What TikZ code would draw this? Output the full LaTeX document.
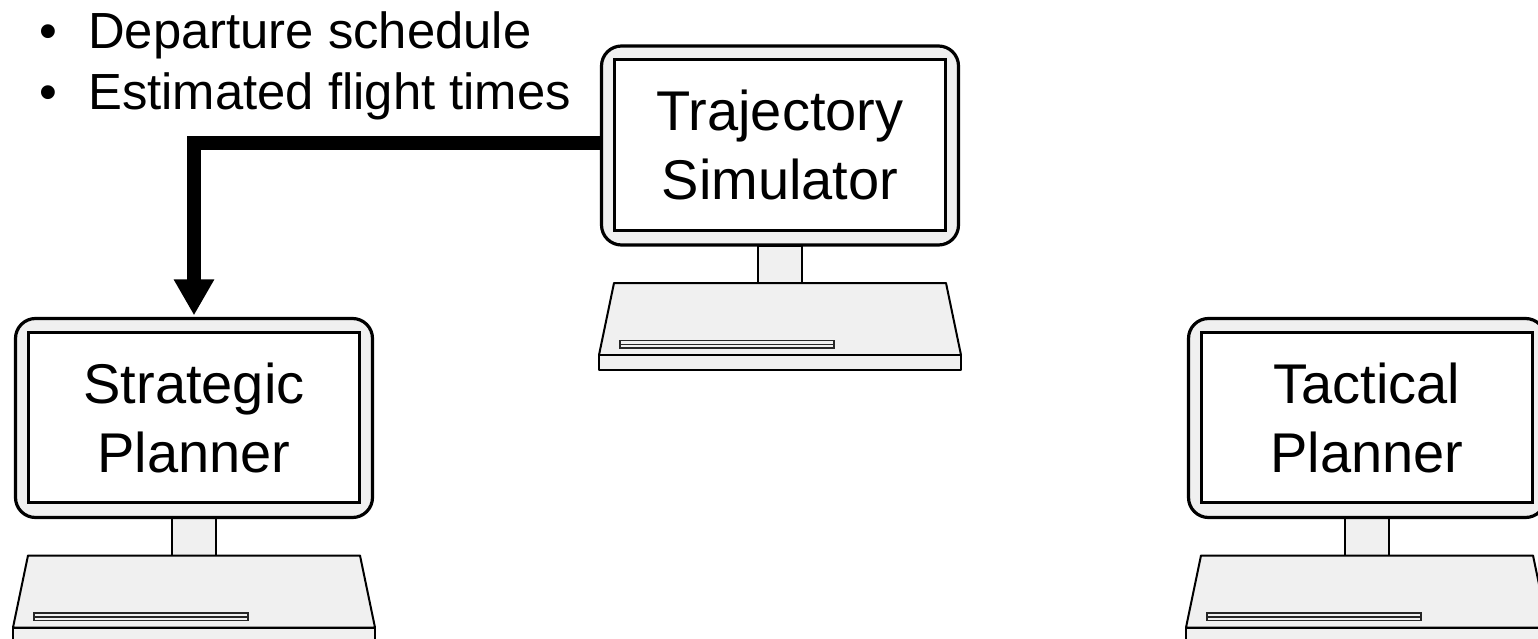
\documentclass[tikz,border=0pt]{standalone}
\usepackage{fontspec}
\setmainfont{Liberation Sans}
\usetikzlibrary{arrows.meta}
\definecolor{bodygrey}{HTML}{F0F0F0}
\tikzset{
  x=1pt,y=-1pt,
  bodyline/.style={draw=black,line width=2pt,fill=bodygrey,line join=round},
  bezel/.style={draw=black,line width=3.2pt,fill=bodygrey,rounded corners=20pt,minimum width=357pt,minimum height=199pt,inner sep=0pt},
  screen/.style={draw=black,line width=3pt,fill=white,minimum width=331pt,minimum height=170pt,align=center,inner sep=0pt,font=\fontsize{56}{69}\selectfont},
  listitem/.style={anchor=base west,inner sep=0pt,font=\fontsize{50.8}{60}\selectfont},
  link/.style={draw=black,line width=14pt,-{Triangle[length=36pt,width=38pt]}},
  pics/computer/.style={code={
    \draw[bodyline,line width=2.6pt] (-22,100) rectangle (22,140);
    \draw[bodyline] (-166,137.5) -- (166,137.5) -- (181,209.5) -- (-181,209.5) -- cycle;
    \draw[bodyline] (-181,209.5) rectangle (181,224.5);
    \draw[draw=black!85,line width=1.3pt,fill=bodygrey] (-160,195) rectangle (54,199);
    \draw[draw=black!85,line width=1.3pt,fill=bodygrey] (-160,199) rectangle (54,202.5);
    \node[bezel] (-monitor) at (0,0) {};
    \node[screen] (-screen) at (0,-0.5) {#1};
  }}
}
\begin{document}
\begin{tikzpicture}
\clip (0,0) rectangle (1538,639);
\pic (sim) at (780,145.5) {computer={Trajectory\\Simulator}};
\pic (strat) at (194,418) {computer={Strategic\\Planner}};
\pic (tact) at (1367,418) {computer={Tactical\\Planner}};
\node[listitem] (item1) at (39,49) {\makebox[49pt][l]{•}Departure schedule};
\node[listitem] (item2) at (39,110) {\makebox[49pt][l]{•}Estimated flight times};
\coordinate (simport) at (sim-monitor.west |- 0,143);
\draw[link] (simport) -| ([yshift=1.5pt]strat-monitor.north);
\end{tikzpicture}
\end{document}
